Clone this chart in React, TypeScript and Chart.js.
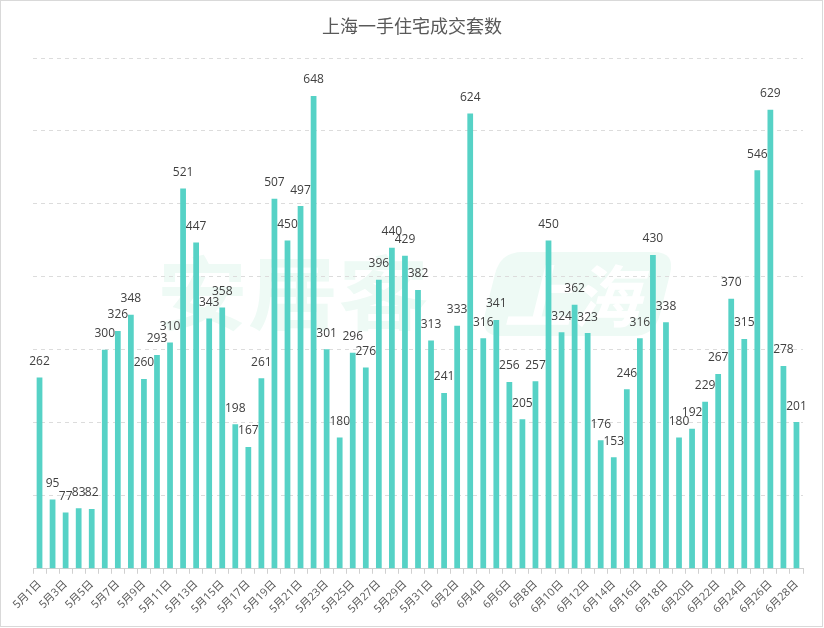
import React, { useEffect, useRef } from "react";
import { Chart, registerables } from "chart.js";

Chart.register(...registerables);

const categories: string[] = [
  "5月1日","5月2日","5月3日","5月4日","5月5日","5月6日","5月7日","5月8日","5月9日","5月10日",
  "5月11日","5月12日","5月13日","5月14日","5月15日","5月16日","5月17日","5月18日","5月19日","5月20日",
  "5月21日","5月22日","5月23日","5月24日","5月25日","5月26日","5月27日","5月28日","5月29日","5月30日",
  "5月31日","6月1日","6月2日","6月3日","6月4日","6月5日","6月6日","6月7日","6月8日","6月9日",
  "6月10日","6月11日","6月12日","6月13日","6月14日","6月15日","6月16日","6月17日","6月18日","6月19日",
  "6月20日","6月21日","6月22日","6月23日","6月24日","6月25日","6月26日","6月27日","6月28日",
];

const sales: number[] = [
  262, 95, 77, 83, 82, 300, 326, 348, 260, 293,
  310, 521, 447, 343, 358, 198, 167, 261, 507, 450,
  497, 648, 301, 180, 296, 276, 396, 440, 429, 382,
  313, 241, 333, 624, 316, 341, 256, 205, 257, 450,
  324, 362, 323, 176, 153, 246, 316, 430, 338, 180,
  192, 229, 267, 370, 315, 546, 629, 278, 201,
];

const title = "上海一手住宅成交套数";
const watermarkLeft = "安居客";
const watermarkRight = "上海";
const yMax = 700;
const yStep = 100;

const FONT = "'Open Sans', 'Noto Sans CJK SC', sans-serif";
const CJK = "'Noto Sans CJK SC', sans-serif";

function roundRectPath(ctx: any, x: number, y: number, w: number, h: number, r: number) {
  ctx.beginPath();
  ctx.moveTo(x + r, y);
  ctx.lineTo(x + w - r, y);
  ctx.quadraticCurveTo(x + w, y, x + w, y + r);
  ctx.lineTo(x + w, y + h - r);
  ctx.quadraticCurveTo(x + w, y + h, x + w - r, y + h);
  ctx.lineTo(x + r, y + h);
  ctx.quadraticCurveTo(x, y + h, x, y + h - r);
  ctx.lineTo(x, y + r);
  ctx.quadraticCurveTo(x, y, x + r, y);
  ctx.closePath();
}

const decorPlugin = {
  id: "decor",
  beforeDraw(chart: any) {
    const { ctx, width, height } = chart;
    ctx.save();
    ctx.fillStyle = "#ffffff";
    ctx.fillRect(0, 0, width, height);
    ctx.strokeStyle = "#d9d9d9";
    ctx.lineWidth = 1;
    ctx.strokeRect(0.5, 0.5, width - 2, height - 2);

    // faint watermark
    ctx.fillStyle = "#eefaf5";
    ctx.font = `bold 84px ${CJK}`;
    ctx.textAlign = "center";
    ctx.textBaseline = "middle";
    ctx.save();
    ctx.translate(293, 293);
    ctx.scale(1.08, 0.95);
    ctx.fillText(watermarkLeft, 0, 0);
    ctx.restore();
    ctx.save();
    ctx.translate(575, 294);
    ctx.transform(1, 0, -0.25, 1, 0, 0);
    roundRectPath(ctx, -85, -42, 175, 84, 22);
    ctx.fill();
    ctx.fillStyle = "#ffffff";
    ctx.font = `bold 68px ${CJK}`;
    ctx.fillText(watermarkRight, 4, 2);
    ctx.restore();

    ctx.font = `18px ${FONT}`;
    ctx.fillStyle = "#595959";
    ctx.textAlign = "center";
    ctx.textBaseline = "middle";
    ctx.fillText(title, width / 2, 28);
    ctx.restore();
  },
  afterDatasetsDraw(chart: any) {
    const { ctx } = chart;
    const meta = chart.getDatasetMeta(0);
    ctx.save();
    ctx.font = `12px ${FONT}`;
    ctx.fillStyle = "#404040";
    ctx.textAlign = "center";
    ctx.textBaseline = "middle";
    meta.data.forEach((bar: any, i: number) => {
      ctx.fillText(String(sales[i]), bar.x, bar.y - 16);
    });
    ctx.restore();
  },
};

export default function App() {
  const ref = useRef<HTMLCanvasElement | null>(null);
  useEffect(() => {
    if (!ref.current) return;
    const chart = new Chart(ref.current, {
      type: "bar",
      data: {
        labels: categories,
        datasets: [
          {
            data: sales,
            backgroundColor: "#56D2C6",
            borderWidth: 0,
            categoryPercentage: 1,
            barPercentage: 0.44,
          },
        ],
      },
      options: {
        animation: false,
        responsive: true,
        maintainAspectRatio: false,
        layout: { padding: { left: 33, right: 21, top: 58, bottom: 8 } },
        plugins: {
          legend: { display: false },
          tooltip: { enabled: false },
          title: { display: false },
        },
        scales: {
          x: {
            grid: {
              display: true,
              drawOnChartArea: false,
              drawTicks: true,
              tickLength: 5,
              color: "#d0d0d0",
            },
            border: { display: true, color: "#d0d0d0" },
            ticks: {
              autoSkip: false,
              maxRotation: 45,
              minRotation: 45,
              padding: 4,
              color: "#595959",
              font: { size: 11, family: FONT },
              callback: (_v: any, i: number) => (i % 2 === 0 ? categories[i] : ""),
            },
          },
          y: {
            min: 0,
            max: yMax,
            ticks: { display: false, stepSize: yStep },
            grid: {
              color: "#dcdcdc",
              drawTicks: false,
            },
            border: { display: false, dash: [4, 4] },
          },
        },
      },
      plugins: [decorPlugin],
    });
    return () => chart.destroy();
  }, []);
  return (
    <div style={{ position: "absolute", left: 0, top: 0, width: 824, height: 628 }}>
      <canvas ref={ref} />
    </div>
  );
}
